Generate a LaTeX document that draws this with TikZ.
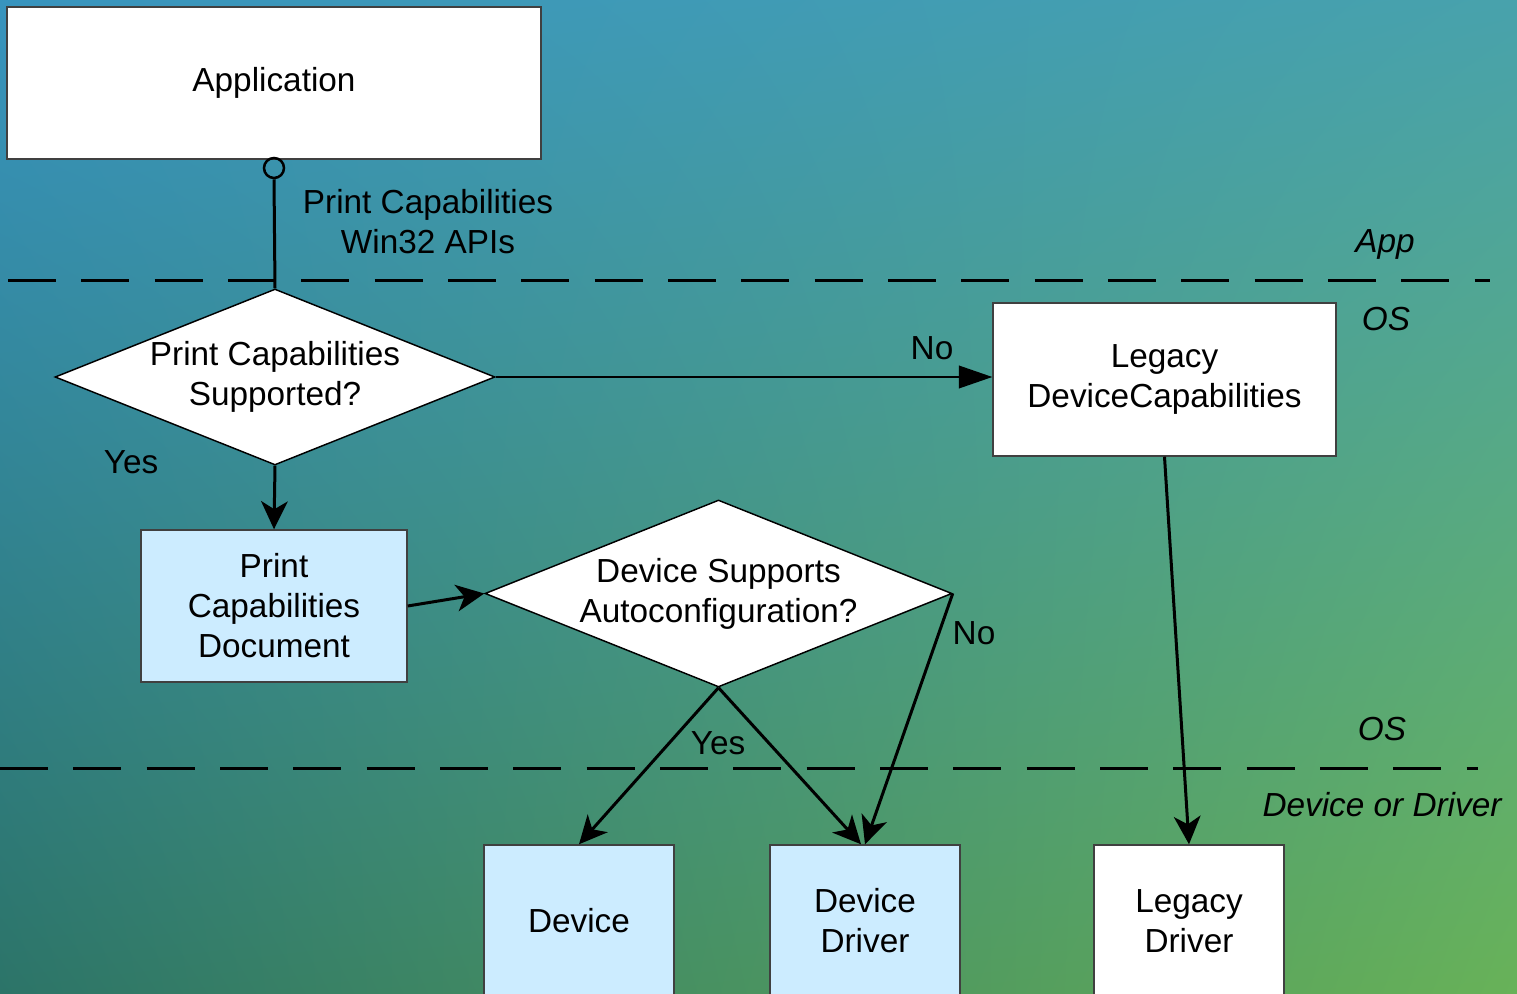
\documentclass[tikz,border=0pt]{standalone}
\usepackage{fontspec}
\setmainfont{Liberation Sans}
\usepackage{tikz}
\usetikzlibrary{arrows.meta,shapes.geometric,shadings}

\definecolor{vistaTL}{RGB}{56,148,190}
\definecolor{vistaTR}{RGB}{72,162,172}
\definecolor{vistaBL}{RGB}{44,116,104}
\definecolor{vistaBR}{RGB}{104,178,88}
\definecolor{boxline}{RGB}{64,64,64}
\definecolor{paleblue}{RGB}{204,236,255}

\tikzset{
  box/.style={draw=boxline, line width=1.1pt, fill=white, align=center, inner sep=0pt},
  docbox/.style={box, fill=paleblue},
  decision/.style={diamond, shape aspect=2.5, draw=black, line width=1.1pt, fill=white, align=center, inner sep=0pt},
  flow/.style={line width=2.25pt, -{Stealth[length=21pt,width=20pt,inset=6pt]}},
  thinflow/.style={line width=1.1pt, -{Triangle[length=25pt,width=17pt]}},
  divider/.style={line width=2.25pt, dash pattern=on 36pt off 19pt},
  zone/.style={font=\fontsize{25}{30}\selectfont\itshape, inner sep=0pt},
  lbl/.style={inner sep=0pt, align=center}
}

\begin{document}
\begin{tikzpicture}[x=0.75pt,y=0.75pt,yscale=-1,xscale=1,font=\fontsize{25}{30}\selectfont]
%Background
\clip (0,0) rectangle (1517,994);
\shade [upper left=vistaTL, upper right=vistaTR, lower left=vistaBL, lower right=vistaBR] (0,0) rectangle (1517,994);

%Layer lines
\coordinate (appL) at (8,281);
\coordinate (appR) at (1490,281);
\coordinate (drvL) at (0,768);
\coordinate (drvR) at (1478,768);
\draw [divider] (appL) -- (appR);
\draw [divider] (drvL) -- (drvR);

%Shapes
\node (app) [box, minimum width=400.5pt, minimum height=114pt] at (274,83) {Application};
\node (port) [circle, draw, line width=1.9pt, minimum size=15pt, inner sep=0pt] at (274,168) {};
\node (supported) [decision, minimum width=330pt, minimum height=132pt] at (275,377) {Print Capabilities\\Supported?};
\node (legacycaps) [box, minimum width=257.25pt, minimum height=114.75pt] at (1164.5,379.5) {Legacy\\DeviceCapabilities};
\node (pcdoc) [docbox, minimum width=199.5pt, minimum height=114pt] at (274,606) {Print\\Capabilities\\Document};
\node (autoconf) [decision, minimum width=350.25pt, minimum height=140.25pt] at (718.5,593.5) {Device Supports\\Autoconfiguration?};
\node (device) [docbox, minimum width=142.5pt, minimum height=114pt] at (579,921) {Device};
\node (driver) [docbox, minimum width=142.5pt, minimum height=114pt] at (865,921) {Device\\Driver};
\node (legacydrv) [box, minimum width=142.5pt, minimum height=114pt] at (1189,921) {Legacy\\Driver};

%Connectors
\draw [line width=2.25pt] (port.south) -- (supported.north);
\draw [flow] (supported.south) -- (pcdoc.north);
\draw [thinflow] (supported.east) -- (supported.east -| legacycaps.west);
\draw [flow] (pcdoc.east) -- (autoconf.west);
\draw [flow] (autoconf.south) -- (device.north);
\draw [flow] (autoconf.south) -- ([xshift=-3pt]driver.north);
\draw [flow] (autoconf.east) -- (driver.north);
\draw [flow] (legacycaps.south) -- (legacydrv.north);

% Text Node
\node (apis) [lbl] at (428,222) {Print Capabilities\\Win32 APIs};
% Text Node
\node (noA) [lbl] at (932,348) {No};
% Text Node
\node (yesA) [lbl] at (131,462) {Yes};
% Text Node
\node (noB) [lbl] at (974,633) {No};
% Text Node
\node (yesB) [lbl] at (718,743) {Yes};
% Text Node
\node (appZone) [zone] at (1385,244) {App};
% Text Node
\node (osZoneA) [zone] at (1386,319) {OS};
% Text Node
\node (osZoneB) [zone] at (1382,729) {OS};
% Text Node
\node (drvZone) [zone] at (1382,805) {Device or Driver};

\end{tikzpicture}
\end{document}
